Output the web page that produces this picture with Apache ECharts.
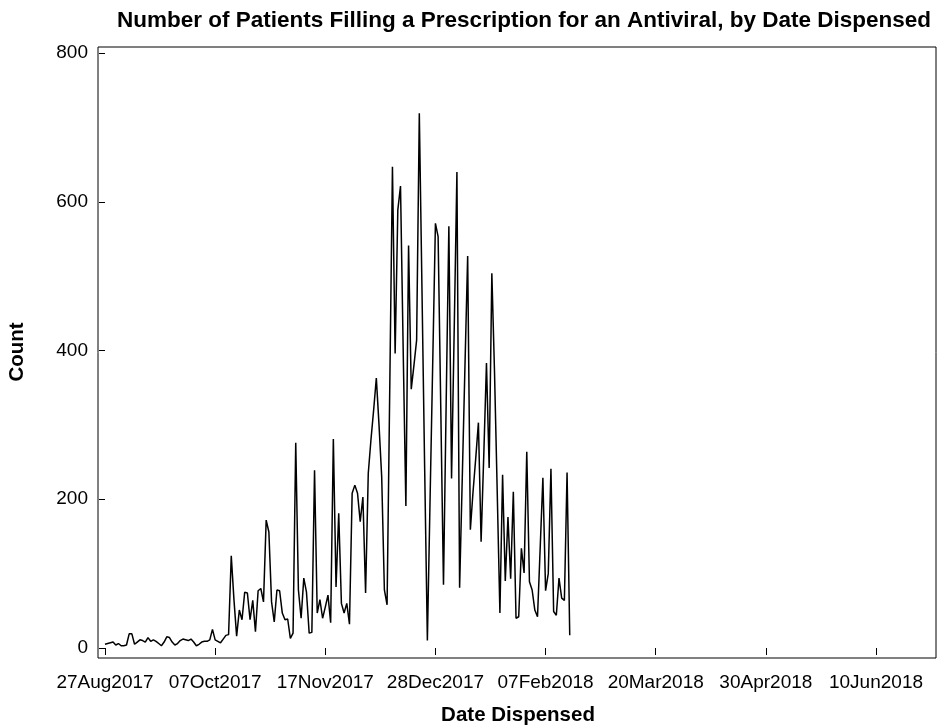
<!DOCTYPE html>
<html>
<head>
<meta charset="utf-8">
<script src="https://cdn.jsdelivr.net/npm/echarts@6/dist/echarts.min.js"></script>
<style>
  html, body { margin: 0; padding: 0; background: #fff; }
  #chart { width: 943px; height: 725px; }
</style>
</head>
<body>
<div id="chart"></div>
<script>
// Daily counts of patients filling an antiviral prescription, starting 27 Aug 2017
const startLabel = '27Aug2017';
const patientCounts = [
  5, 6, 7, 8, 4, 6, 3, 3, 4, 19,
  19, 5, 8, 11, 10, 8, 14, 9, 11, 9,
  6, 3, 8, 15, 14, 8, 4, 6, 10, 12,
  11, 10, 12, 8, 3, 5, 8, 9, 9, 11,
  25, 11, 9, 7, 12, 17, 18, 124, 65, 16,
  51, 38, 75, 74, 38, 64, 22, 77, 80, 62,
  172, 156, 62, 35, 78, 77, 47, 38, 39, 13,
  20, 276, 78, 40, 94, 75, 20, 21, 239, 47,
  65, 40, 55, 71, 34, 281, 82, 181, 60, 47,
  60, 32, 208, 219, 208, 170, 203, 74, 235, 280,
  320, 363, 300, 230, 78, 58, 350, 647, 396, 589,
  621, 400, 191, 541, 348, 380, 414, 719, 480, 240,
  10, 199, 385, 571, 553, 320, 85, 330, 567, 228,
  430, 640, 81, 230, 380, 527, 159, 210, 255, 303,
  143, 260, 383, 242, 504, 370, 210, 47, 233, 90,
  176, 93, 210, 40, 42, 134, 101, 264, 89, 78,
  51, 42, 135, 229, 77, 100, 241, 49, 44, 94,
  67, 64, 236, 17
];

// Date axis ticks, one every 41 days from the first day
const tickStepDays = 41;
const tickLabels = ['27Aug2017', '07Oct2017', '17Nov2017', '28Dec2017',
                    '07Feb2018', '20Mar2018', '30Apr2018', '10Jun2018'];
const countTicks = [0, 200, 400, 600, 800];

const FONT = '"Liberation Sans", Arial, sans-serif';

// x = days since the first date
const seriesData = patientCounts.map((v, i) => [i, v]);

const chart = echarts.init(document.getElementById('chart'), null, { renderer: 'canvas' });

chart.setOption({
  animation: false,
  backgroundColor: '#ffffff',
  textStyle: { fontFamily: FONT },
  grid: { left: 105, right: 67, top: 53, bottom: 77, containLabel: false },
  xAxis: {
    type: 'value',
    min: 0,
    max: tickStepDays * (tickLabels.length - 1),
    interval: tickStepDays,
    offset: 10,
    axisLine: { show: false },
    axisTick: { show: true, inside: false, length: 7, lineStyle: { color: '#000', width: 1 } },
    splitLine: { show: false },
    axisLabel: {
      color: '#000', fontSize: 19, fontFamily: FONT, margin: 15,
      formatter: v => tickLabels[Math.round(v / tickStepDays)] || ''
    }
  },
  yAxis: {
    type: 'value',
    min: countTicks[0],
    max: countTicks[countTicks.length - 1],
    interval: countTicks[1] - countTicks[0],
    offset: 7,
    axisLine: { show: false },
    axisTick: { show: true, inside: false, length: 6, lineStyle: { color: '#000', width: 1 } },
    splitLine: { show: false },
    axisLabel: { color: '#000', fontSize: 19, fontFamily: FONT, margin: 10 }
  },
  series: [{
    type: 'line',
    data: seriesData,
    showSymbol: false,
    symbol: 'none',
    lineStyle: { color: '#000', width: 1.5 },
    clip: false
  }],
  graphic: [
    {
      // plot frame
      type: 'rect',
      shape: { x: 98, y: 47, width: 838, height: 611 },
      style: { fill: 'none', stroke: '#000', lineWidth: 1 },
      silent: true
    },
    {
      type: 'text',
      x: 524, y: 21,
      style: {
        text: 'Number of Patients Filling a Prescription for an Antiviral, by Date Dispensed',
        font: 'bold 22.5px ' + FONT, fill: '#000', align: 'center', verticalAlign: 'middle'
      }
    },
    {
      type: 'text',
      x: 518, y: 715,
      style: {
        text: 'Date Dispensed',
        font: 'bold 20.5px ' + FONT, fill: '#000', align: 'center', verticalAlign: 'middle'
      }
    },
    {
      type: 'text',
      x: 17, y: 352,
      rotation: Math.PI / 2,
      style: {
        text: 'Count',
        font: 'bold 20.5px ' + FONT, fill: '#000', align: 'center', verticalAlign: 'middle'
      }
    }
  ]
});
</script>
</body>
</html>
